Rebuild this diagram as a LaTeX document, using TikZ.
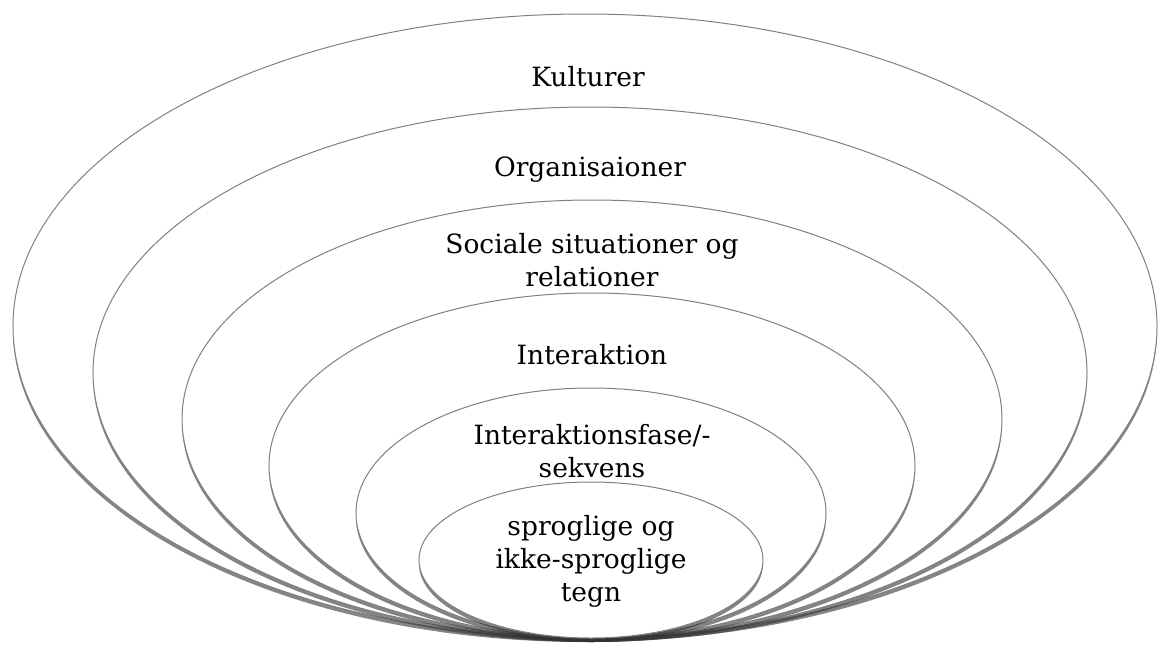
\documentclass[tikz,border=0pt]{standalone}
\usepackage{fontspec}
\setmainfont{DejaVu Serif}
\usetikzlibrary{shapes.geometric,shadows}
\definecolor{ringgray}{rgb}{.5,.5,.5}

\begin{document}
\begin{tikzpicture}[x=1pt,y=-1pt,% px coordinates, y going down
			every node/.style={
				align=center,		% so that "\\" breaks the line
				font=\fontsize{26.5}{33}\selectfont
			},
			ring/.style={ellipse,draw=ringgray,line width=1pt,fill=white,inner sep=0pt,
				drop shadow={shadow xshift=0pt,shadow yshift=-4pt,opacity=.6,fill=black!80}}
		]
		\useasboundingbox (0,0) rectangle (1159,648);
		% rings, outermost first
		\node[ring,minimum width=1144pt,minimum height=624pt](E1) at (585,326){};
		\node[ring,minimum width=994pt,minimum height=531pt](E2) at (590,372.5){};
		\node[ring,minimum width=820pt,minimum height=438pt](E3) at (592,419){};
		\node[ring,minimum width=646pt,minimum height=345pt](E4) at (592,465.5){};
		\node[ring,minimum width=470pt,minimum height=250pt](E5) at (591,513){};
		\node[ring,minimum width=344pt,minimum height=156pt](E6) at (591,560){};
		% labels
		\node(T1) at (588,77){Kulturer};
		\node(T2) at (590,170){Organisaioner};
		\node(T3) at (592,260){Sociale situationer og\\relationer};
		\node(T4) at (592,355){Interaktion};
		\node(T5) at (592,451){Interaktionsfase/-\\sekvens};
		\node(T6) at (591,561){sproglige og\\ikke-sproglige\\tegn};
	\end{tikzpicture}
\end{document}
